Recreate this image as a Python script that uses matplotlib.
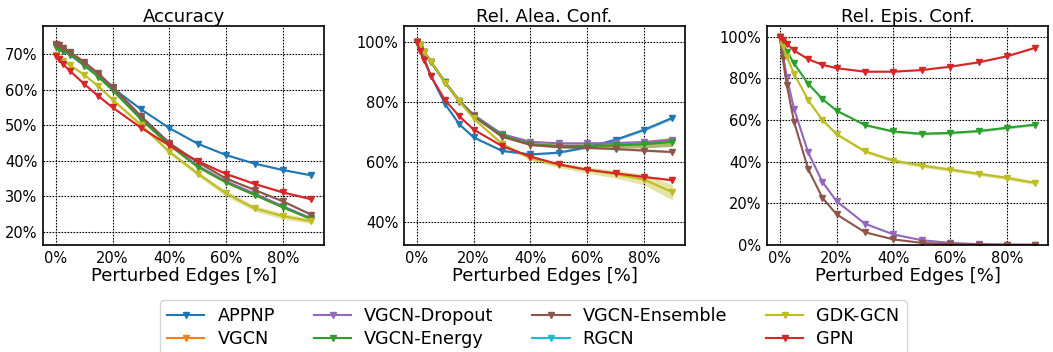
import numpy as np
import matplotlib.pyplot as plt
from matplotlib.ticker import PercentFormatter

# perturbed edges [%]
edges = [0, 1, 2.5, 5, 10, 15, 20, 30, 40, 50, 60, 70, 80, 90]

models = ["APPNP", "VGCN", "VGCN-Dropout", "VGCN-Energy",
          "VGCN-Ensemble", "RGCN", "GDK-GCN", "GPN"]
colors = ["C0", "C1", "C4", "C2", "C5", "C9", "C8", "C3"]

nan14 = [np.nan] * 14

# accuracy [%]
acc = {
    "APPNP": [72.0, 71.5, 71.0, 69.8, 66.8, 63.8, 60.5, 54.5, 49.2, 44.8, 41.6, 39.2, 37.4, 35.9],
    "VGCN": [72.2, 71.6, 71.0, 70.0, 66.9, 63.6, 59.9, 51.7, 44.4, 38.3, 33.9, 30.4, 26.9, 23.6],
    "VGCN-Dropout": [72.5, 71.8, 71.2, 70.2, 67.2, 64.0, 60.2, 52.0, 44.6, 38.6, 34.2, 30.8, 27.2, 23.8],
    "VGCN-Energy": [72.2, 71.6, 71.0, 70.0, 66.9, 63.6, 59.9, 51.7, 44.4, 38.3, 33.9, 30.4, 26.9, 23.6],
    "VGCN-Ensemble": [72.9, 72.5, 71.8, 70.6, 67.8, 64.6, 60.8, 52.6, 45.0, 39.6, 35.0, 31.8, 28.6, 24.8],
    "RGCN": nan14,
    "GDK-GCN": [69.8, 68.7, 68.0, 66.9, 64.2, 61.0, 57.2, 50.1, 42.5, 36.4, 30.8, 26.6, 24.4, 23.0],
    "GPN": [69.5, 68.5, 67.2, 65.3, 61.6, 58.2, 55.0, 49.3, 44.3, 39.9, 36.3, 33.5, 31.1, 29.2],
}
acc_std = {
    "APPNP": [0.2] * 14,
    "VGCN": [0.2] * 14,
    "VGCN-Dropout": [0.2] * 14,
    "VGCN-Energy": [0.2] * 14,
    "VGCN-Ensemble": [0.3] * 14,
    "RGCN": nan14,
    "GDK-GCN": [0.2, 0.2, 0.2, 0.3, 0.3, 0.3, 0.4, 0.5, 0.6, 0.7, 0.8, 0.8, 0.8, 0.7],
    "GPN": [0.3] * 14,
}

# relative aleatoric confidence [%]
alea = {
    "APPNP": [100.0, 97.5, 94.5, 88.6, 79.1, 72.4, 68.1, 63.6, 62.4, 63.0, 64.8, 67.3, 70.6, 74.6],
    "VGCN": [100.0, 99.0, 96.7, 93.3, 86.4, 80.2, 75.3, 68.8, 65.8, 65.2, 65.2, 65.4, 65.8, 66.6],
    "VGCN-Dropout": [100.0, 99.0, 96.7, 93.3, 86.5, 80.3, 75.6, 69.2, 66.6, 66.1, 66.1, 66.2, 66.5, 67.2],
    "VGCN-Energy": [100.0, 99.0, 96.7, 93.3, 86.4, 80.2, 75.3, 68.8, 65.8, 65.2, 65.2, 65.4, 65.8, 66.6],
    "VGCN-Ensemble": [100.0, 98.9, 96.5, 93.1, 86.2, 80.0, 75.1, 68.3, 65.6, 64.9, 64.6, 64.2, 63.7, 63.2],
    "RGCN": nan14,
    "GDK-GCN": [100.0, 99.0, 96.7, 93.3, 86.3, 80.1, 74.4, 65.9, 61.1, 58.8, 57.2, 55.8, 54.0, 49.8],
    "GPN": [100.0, 97.0, 93.9, 88.4, 80.4, 75.1, 70.7, 65.2, 61.7, 59.1, 57.3, 56.1, 54.9, 53.8],
}
alea_std = {
    "APPNP": [0.0, 0.2, 0.2, 0.3, 0.3, 0.3, 0.3, 0.3, 0.3, 0.3, 0.4, 0.4, 0.5, 0.5],
    "VGCN": [0.0, 0.2, 0.2, 0.2, 0.3, 0.3, 0.3, 0.4, 0.5, 0.6, 0.7, 0.9, 1.2, 1.5],
    "VGCN-Dropout": [0.0, 0.2, 0.2, 0.2, 0.2, 0.3, 0.3, 0.3, 0.3, 0.3, 0.3, 0.4, 0.4, 0.4],
    "VGCN-Energy": [0.0, 0.2, 0.2, 0.2, 0.3, 0.3, 0.3, 0.4, 0.5, 0.6, 0.7, 0.9, 1.2, 1.5],
    "VGCN-Ensemble": [0.0, 0.2, 0.2, 0.2, 0.2, 0.2, 0.2, 0.2, 0.3, 0.3, 0.3, 0.3, 0.3, 0.3],
    "RGCN": nan14,
    "GDK-GCN": [0.0, 0.2, 0.2, 0.3, 0.3, 0.3, 0.4, 0.5, 0.6, 0.8, 1.0, 1.3, 1.8, 2.6],
    "GPN": [0.0, 0.2, 0.2, 0.3, 0.3, 0.3, 0.3, 0.3, 0.3, 0.3, 0.3, 0.3, 0.3, 0.3],
}

# relative epistemic confidence [%]
epis = {
    "APPNP": nan14,
    "VGCN": nan14,
    "VGCN-Dropout": [100.0, 92.0, 80.5, 65.4, 44.4, 30.3, 21.0, 10.2, 5.1, 2.3, 1.0, 0.4, 0.2, 0.1],
    "VGCN-Energy": [100.0, 97.0, 92.8, 87.2, 77.4, 70.1, 64.5, 57.6, 54.5, 53.4, 53.8, 54.7, 56.3, 57.8],
    "VGCN-Ensemble": [100.0, 90.0, 76.6, 59.2, 36.4, 22.7, 14.7, 6.1, 2.7, 1.0, 0.4, 0.2, 0.1, 0.1],
    "RGCN": nan14,
    "GDK-GCN": [100.0, 95.5, 90.4, 82.3, 69.5, 60.0, 53.2, 45.0, 40.5, 38.1, 36.2, 34.2, 32.2, 29.8],
    "GPN": [100.0, 98.5, 96.5, 93.4, 89.2, 86.5, 84.9, 83.2, 83.2, 84.0, 85.6, 87.7, 90.6, 94.7],
}
epis_std = {
    "APPNP": nan14,
    "VGCN": nan14,
    "VGCN-Dropout": [0.0, 0.3, 0.3, 0.4, 0.4, 0.4, 0.4, 0.3, 0.2, 0.2, 0.1, 0.1, 0.1, 0.1],
    "VGCN-Energy": [0.0, 0.3, 0.3, 0.3, 0.3, 0.4, 0.4, 0.5, 0.6, 0.6, 0.6, 0.6, 0.6, 0.6],
    "VGCN-Ensemble": [0.0, 0.3, 0.3, 0.3, 0.3, 0.3, 0.3, 0.2, 0.2, 0.1, 0.1, 0.1, 0.1, 0.1],
    "RGCN": nan14,
    "GDK-GCN": [0.0, 0.3, 0.3, 0.4, 0.5, 0.6, 0.7, 0.8, 0.9, 0.9, 0.9, 0.9, 0.9, 0.9],
    "GPN": [0.0, 0.3, 0.3, 0.3, 0.3, 0.3, 0.3, 0.3, 0.3, 0.3, 0.3, 0.3, 0.3, 0.3],
}

panels = [
    ("Accuracy", acc, acc_std, (16.3, 77.9), [20, 30, 40, 50, 60, 70]),
    ("Rel. Alea. Conf.", alea, alea_std, (32.2, 105.2), [40, 60, 80, 100]),
    ("Rel. Epis. Conf.", epis, epis_std, (0, 105.1), [0, 20, 40, 60, 80, 100]),
]

fig = plt.figure(figsize=(10.53, 3.52), dpi=100)
lefts = [0.0408, 0.3837, 0.7284]
x = np.array(edges)

for (title, vals, stds, ylim, yticks), left in zip(panels, lefts):
    ax = fig.add_axes([left, 0.304, 0.2670, 0.622])
    for name, c in zip(models, colors):
        m = np.array(vals[name], dtype=float)
        s = np.array(stds[name], dtype=float)
        ax.fill_between(x, m - s, m + s, color=c, alpha=0.4, lw=0)
        ax.plot(x, m, color=c, marker="v", markersize=5, lw=1.5, label=name)
    ax.set_title(title, fontsize=13, pad=3)
    ax.set_xlabel("Perturbed Edges [%]", fontsize=13, labelpad=1)
    ax.set_xlim(-4.5, 94.5)
    ax.set_ylim(*ylim)
    ax.set_xticks([0, 20, 40, 60, 80])
    ax.set_yticks(yticks)
    ax.xaxis.set_major_formatter(PercentFormatter(decimals=0))
    ax.yaxis.set_major_formatter(PercentFormatter(decimals=0))
    ax.tick_params(labelsize=10.5, direction="in", length=0, pad=4)
    ax.grid(True, color="black", linestyle=(0, (1.5, 1.2)), lw=0.8)
    for sp in ax.spines.values():
        sp.set_linewidth(1.2)

handles, labels = ax.get_legend_handles_labels()
fig.legend(handles, labels, loc="lower center", bbox_to_anchor=(0.5066, -0.035),
           ncol=4, fontsize=12.7, frameon=True, columnspacing=2.2,
           handlelength=2.1, handletextpad=0.75, borderpad=0.4, labelspacing=0.3)

fig.savefig("out.png", dpi=100)
